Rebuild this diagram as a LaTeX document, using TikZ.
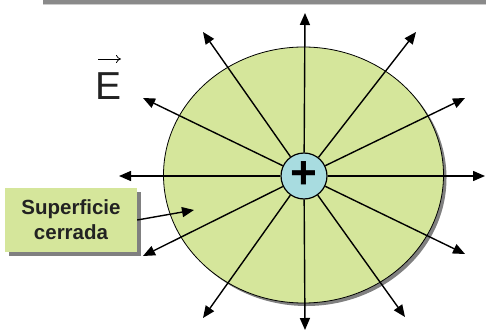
\documentclass[tikz,border=0pt]{standalone}
\usepackage{fontspec}
\setmainfont{Liberation Sans}
\usetikzlibrary{arrows.meta,shadows}
\definecolor{fieldgreen}{HTML}{D5E69B}
\definecolor{chargeblue}{HTML}{A8DCE0}
\definecolor{bargray}{HTML}{8A8A8A}
\definecolor{txt}{HTML}{222222}
\tikzset{
  ray/.style={line width=1.4pt, -{Triangle[length=12pt,width=10pt]}},
  lblbox/.style={fill=fieldgreen, minimum width=132pt, minimum height=64pt, align=center,
     inner sep=2pt, text=txt, font=\fontsize{20.5}{25}\selectfont\bfseries,
     drop shadow={shadow xshift=4pt, shadow yshift=-4pt, fill=gray, opacity=1}},
  charge/.style={circle, draw=black, line width=1.2pt, fill=chargeblue, minimum size=46pt, inner sep=0pt,
     font=\fontsize{46}{46}\selectfont\bfseries}
}
\begin{document}
\begin{tikzpicture}[x=1pt,y=-1pt]
\useasboundingbox (0,0) rectangle (486,331);
% top bar
\fill[bargray] (43,0) rectangle (486,4);
\fill[gray!40] (43,4) rectangle (486,5);
% surface with shadow
\fill[gray] (306.5,178) ellipse [x radius=140, y radius=128];
\draw[fill=fieldgreen, line width=0.8pt] (303.5,175) ellipse [x radius=140, y radius=128];
% charge
\node[charge] (c) at (304,176) {\raisebox{1pt}{+}};
% tips
\coordinate (t0) at (485,176);
\coordinate (t1) at (465,98);
\coordinate (t2) at (416,32);
\coordinate (t3) at (305,13);
\coordinate (t4) at (203,32);
\coordinate (t5) at (143,98);
\coordinate (t6) at (119,176);
\coordinate (t7) at (143,256);
\coordinate (t8) at (203,318);
\coordinate (t9) at (305,330);
\coordinate (t10) at (405,317);
\coordinate (t11) at (465,254);
\foreach \i in {0,...,11} { \draw[ray] (c) -- (t\i); }
% label
\node[lblbox] (lbl) at (71,220) {Superficie\\cerrada};
\coordinate (s) at (194,210);
\draw[ray] (lbl.east) -- (s);
% E vector
\node[font=\fontsize{39}{39}\selectfont, text=txt, inner sep=0pt, anchor=base] (E) at (109,100) {E};
\coordinate (ea) at (98,59);
\coordinate (eb) at (121,59);
\draw[line width=0.8pt, -{To[length=5pt,width=8pt]}] (ea) -- (eb);
\end{tikzpicture}
\end{document}
